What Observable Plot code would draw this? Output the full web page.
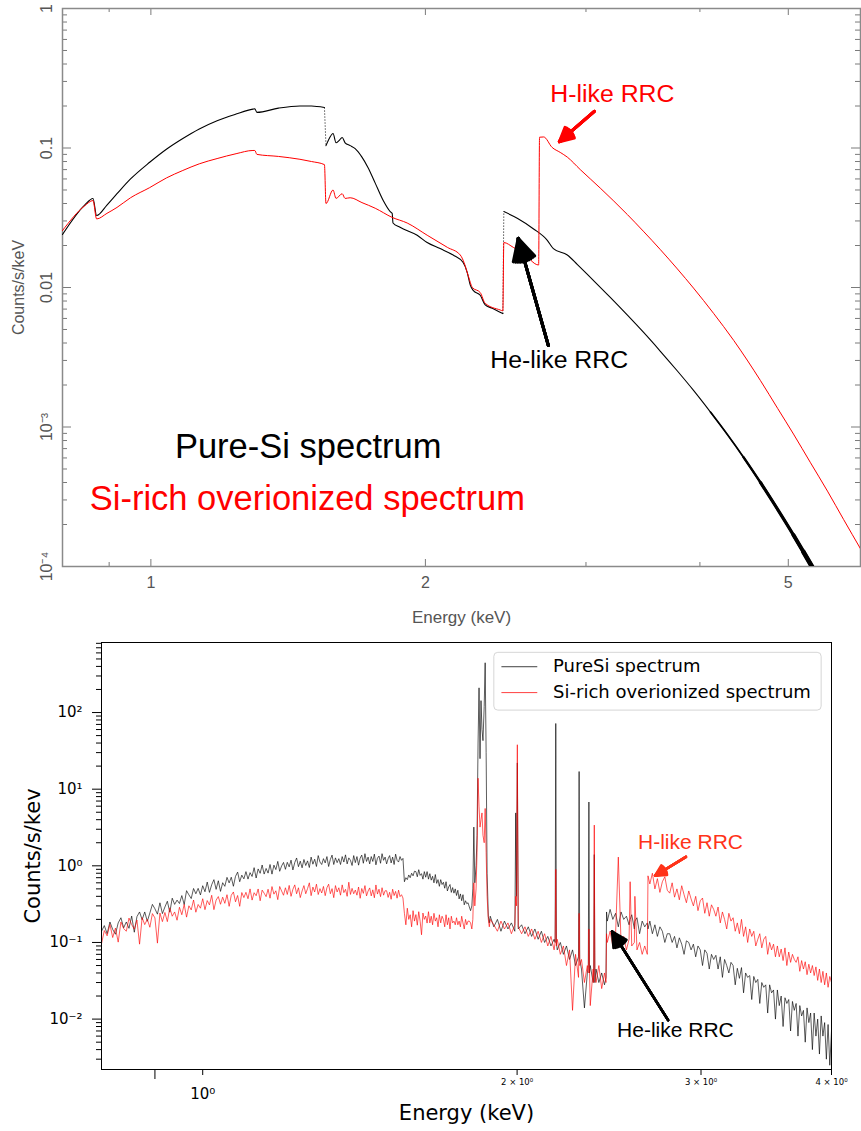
<!DOCTYPE html>
<html><head><meta charset="utf-8">
<script src="https://cdn.jsdelivr.net/npm/d3@7"></script>
<script src="https://cdn.jsdelivr.net/npm/@observablehq/plot@0.6"></script>
<style>
html,body{margin:0;padding:0;background:#fff;}
#chart svg{display:block;}
</style></head><body><div id="chart"></div>
<script>
// ---------- TOP PANEL DATA (model spectra, [energy keV, counts/s/keV]) ----------
const topPureSi = [
 [0.80,0.024],[0.846,0.039],[0.864,0.0435],[0.872,0.0328],[0.895,0.039],[0.918,0.047],[0.95,0.06],[0.997,0.079],[1.04,0.098],[1.084,0.117],
 [1.13,0.137],[1.182,0.157],[1.24,0.175],[1.294,0.19],[1.300,0.191],[1.307,0.18],[1.38,0.193],[1.457,0.2],[1.50,0.2],[1.550,0.195],
 [1.556,0.104],[1.570,0.118],[1.584,0.127],[1.596,0.109],[1.608,0.113],[1.621,0.119],[1.633,0.109],[1.654,0.104],[1.675,0.099],[1.704,0.086],
 [1.730,0.0725],[1.762,0.056],[1.798,0.042],[1.830,0.035],[1.839,0.034],[1.843,0.029],[1.876,0.027],[1.959,0.0237],[2.009,0.021],[2.076,0.019],
 [2.145,0.0171],[2.200,0.0151],[2.223,0.0128],[2.240,0.0104],[2.258,0.0095],[2.297,0.0088],[2.326,0.0075],[2.368,0.0071],[2.432,0.0065],
 [2.438,0.035],[2.522,0.0314],[2.626,0.0264],[2.721,0.0218],[2.763,0.019],[2.862,0.0171],[2.936,0.01458],[3.056,0.01126],[3.19,0.00849],[3.331,0.00633],
 [3.47,0.00476],[3.62,0.00349],[3.779,0.00252],[3.936,0.00183],[4.108,0.00128],[4.289,0.00088],[4.465,0.000608],[4.661,0.0004],[4.867,0.000257],
 [5.066,0.000168],[5.196,0.000127],[5.33,0.0000953],[5.45,0.0000735]
];
const topOverionized = [
 [0.80,0.0256],[0.846,0.0385],[0.864,0.042],[0.872,0.031],[0.895,0.034],[0.918,0.0375],[0.95,0.044],[0.997,0.052],[1.04,0.061],[1.084,0.069],
 [1.13,0.077],[1.182,0.084],[1.24,0.091],[1.294,0.096],[1.300,0.096],[1.307,0.09],[1.38,0.087],[1.457,0.083],[1.50,0.08],[1.550,0.076],
 [1.556,0.040],[1.584,0.05],[1.596,0.0435],[1.621,0.047],[1.633,0.0435],[1.654,0.044],[1.704,0.0406],[1.762,0.037],[1.839,0.0318],[1.91,0.029],
 [2.009,0.0237],[2.114,0.0194],[2.184,0.0171],[2.205,0.0151],[2.228,0.0122],[2.252,0.0100],[2.297,0.0092],[2.326,0.0077],[2.416,0.0069],[2.432,0.0068],
 [2.438,0.021],[2.497,0.0194],[2.561,0.0176],[2.662,0.0145],[2.668,0.1195],[2.696,0.12],[2.754,0.101],[2.811,0.093],[2.862,0.086],[2.957,0.07],
 [3.11,0.0516],[3.331,0.0333],[3.467,0.02535],[3.62,0.01868],[3.779,0.01358],[3.936,0.0099],[4.14,0.00653],[4.357,0.00417],[4.661,0.00215],[4.867,0.00136],
 [5.066,0.00089],[5.289,0.000554],[5.52,0.000347],[5.75,0.000217],[6.0,0.000134]
];
const pureSiEdges = [1.553, 2.435];          // dotted jumps in the Pure-Si model
const topXMajor = [1, 2, 5];
const topXMinor = [0.9, 3, 4, 6];
const topYMajor = [1, 0.1, 0.01, 0.001, 0.0001];
const topYLabels = ["1", "0.1", "0.01", "10\u207B\u00B3", "10\u207B\u2074"];
const topYMinor = [2,3,4,5,6,7,8,9].flatMap(m => [1e-4, 1e-3, 1e-2, 1e-1].map(d => m * d));
const topNotesBlack = [{E: 1.0625, v: 6.04e-4, t: "Pure-Si spectrum"}];
const topNotesRed = [{E: 0.857, v: 2.56e-4, t: "Si-rich overionized spectrum"}];
const topHLabel = [{E: 2.742, v: 0.212, t: "H-like RRC"}];
const topHeLabel = [{E: 2.356, v: 0.00263, t: "He-like RRC"}];
const topHArrow = [{E1: 3.064, v1: 0.183, E2: 2.805, v2: 0.111}];
const topHeArrow = [{E1: 2.728, v1: 0.00384, E2: 2.528, v2: 0.0225}];
const tailSteps = [4.0, 4.3, 4.6, 4.9, 5.1];   // where the noisy Pure-Si tail gets thicker

// ---------- BOTTOM PANEL DATA (simulated spectra) ----------
const bottomEnergyLow = [
 0.800,0.805,0.810,0.815,0.820,0.825,0.830,0.835,0.840,0.845,
 0.850,0.855,0.860,0.865,0.870,0.875,0.880,0.885,0.890,0.895,
 0.900,0.905,0.910,0.915,0.920,0.925,0.930,0.935,0.940,0.945,
 0.950,0.955,0.960,0.965,0.970,0.975,0.980,0.985,0.990,0.995,
 1.000,1.005,1.010,1.015,1.020,1.025,1.030,1.035,1.040,1.045,
 1.050,1.055,1.060,1.065,1.070,1.075,1.080,1.085,1.090,1.095,
 1.100,1.105,1.110,1.115,1.120,1.125,1.130,1.135,1.140,1.145,
 1.150,1.155,1.160,1.165,1.170,1.175,1.180,1.185,1.190,1.195,
 1.200,1.205,1.210,1.215,1.220,1.225,1.230,1.235,1.240,1.245,
 1.250,1.255,1.260,1.265,1.270,1.275,1.280,1.285,1.290,1.295,
 1.300,1.305,1.310,1.315,1.320,1.325,1.330,1.335,1.340,1.345,
 1.350,1.355,1.360,1.365,1.370,1.375,1.380,1.385,1.390,1.395,
 1.400,1.405,1.410,1.415,1.420,1.425,1.430,1.435,1.440,1.445,
 1.450,1.455,1.460,1.465,1.470,1.475,1.480,1.485,1.490,1.495,
 1.500,1.505,1.510,1.515,1.520,1.525,1.530,1.535,1.540,1.545,
 1.550,1.555,1.560,1.565,1.570,1.575,1.580,1.585,1.590,1.595,
 1.600,1.605,1.610,1.615,1.620,1.625,1.630,1.635,1.640,1.645,
 1.650,1.655,1.660,1.665,1.670,1.675,1.680,1.685,1.690,1.695,
 1.700,1.705,1.710,1.715,1.720,1.725,1.730,1.735,1.740,1.745,
 1.750,1.755,1.760,1.765,1.770,1.775,1.780,1.785,1.790,1.795,
 1.800
];
const pureSiLow = [
 0.14,0.166,0.13,0.185,0.148,0.128,0.18,0.21,0.155,0.185,
 0.153,0.221,0.136,0.217,0.25,0.198,0.25,0.189,0.242,0.314,
 0.275,0.234,0.329,0.238,0.29,0.345,0.248,0.378,0.314,0.357,
 0.322,0.409,0.312,0.474,0.418,0.374,0.506,0.432,0.508,0.417,
 0.55,0.459,0.614,0.45,0.567,0.66,0.493,0.638,0.464,0.602,
 0.54,0.707,0.599,0.71,0.541,0.729,0.828,0.62,0.756,0.676,
 0.84,0.671,0.815,0.726,0.946,0.693,0.911,0.799,1.025,0.78,
 0.924,0.803,1.04,0.779,1.021,0.893,1.142,0.848,0.996,1.107,
 0.9,1.111,0.969,1.185,0.884,1.103,1.266,0.975,1.15,0.942,
 1.21,1.01,1.16,0.95,1.3,1.05,1.22,0.98,1.36,1.12,
 1.04,1.24,1.09,1.32,0.98,1.21,1.38,1.04,1.27,1.1,
 1.24,1.04,1.32,1.12,1.39,1.06,1.27,1.18,1.01,1.36,
 1.1,1.32,1.02,1.26,1.38,1.08,1.44,1.14,1.3,1.06,
 1.32,1.14,1.42,1.03,1.26,1.34,1.08,1.44,1.18,1.3,
 1.06,1.24,1.36,1.09,1.3,1.04,1.42,1.18,1.12,1.32,
 1.18,1.25,0.62,0.7,0.66,0.76,0.7,0.8,0.74,0.85,
 0.84,0.72,0.89,0.75,0.79,0.67,0.84,0.71,0.84,0.67,
 0.79,0.65,0.73,0.6,0.77,0.59,0.66,0.54,0.66,0.57,
 0.61,0.51,0.62,0.47,0.53,0.57,0.45,0.52,0.44,0.5,
 0.41,0.48,0.37,0.43,0.35,0.42,0.31,0.35,0.32,0.33,
 0.29
];
const overionLow = [
 0.096,0.143,0.122,0.172,0.116,0.154,0.101,0.185,0.152,0.14,
 0.208,0.171,0.149,0.196,0.095,0.211,0.171,0.201,0.158,0.238,
 0.209,0.098,0.242,0.187,0.246,0.187,0.283,0.22,0.25,0.195,
 0.288,0.23,0.314,0.214,0.301,0.266,0.358,0.248,0.313,0.28,
 0.372,0.268,0.352,0.309,0.413,0.268,0.357,0.397,0.315,0.39,
 0.324,0.42,0.296,0.413,0.456,0.339,0.41,0.296,0.448,0.385,
 0.451,0.372,0.5,0.357,0.446,0.407,0.499,0.35,0.482,0.44,
 0.396,0.495,0.378,0.536,0.427,0.472,0.362,0.537,0.469,0.413,
 0.517,0.423,0.555,0.4,0.494,0.564,0.432,0.517,0.385,0.47,
 0.552,0.432,0.504,0.6,0.408,0.528,0.456,0.576,0.422,0.504,
 0.442,0.538,0.408,0.518,0.576,0.432,0.504,0.384,0.552,0.456,
 0.517,0.414,0.564,0.447,0.494,0.4,0.611,0.423,0.508,0.432,
 0.483,0.414,0.529,0.377,0.506,0.437,0.552,0.405,0.469,0.515,
 0.405,0.486,0.383,0.563,0.428,0.495,0.396,0.518,0.414,0.473,
 0.473,0.387,0.452,0.366,0.495,0.409,0.464,0.378,0.482,0.396,
 0.42,0.38,0.24,0.17,0.28,0.2,0.23,0.16,0.26,0.19,
 0.231,0.168,0.252,0.189,0.126,0.242,0.2,0.221,0.179,0.252,
 0.18,0.22,0.17,0.24,0.19,0.21,0.16,0.23,0.18,0.22,
 0.2,0.16,0.23,0.17,0.21,0.15,0.22,0.18,0.19,0.17,
 0.21,0.17,0.19,0.16,0.22,0.18,0.15,0.2,0.17,0.19,
 0.19
];
const bottomEnergyLines = [1.805,1.810,1.814,1.818,1.822,1.827,1.831,1.835,1.839,1.843,1.847,1.851,1.855,1.860,1.864,1.868,1.872,1.877,1.881];
const pureSiLines = [0.26,0.3,0.5,3.2,0.6,1.0,2.5,40,210,25,143,60,43,120,446,30,0.8,0.22,0.18];
const overionLines = [0.18,0.15,0.2,0.6,0.3,0.5,1.5,13.9,6,3.2,4,4.9,2.5,2,5.6,1.5,0.4,0.2,0.16];
const bottomEnergyHigh = [
 1.885,1.900,1.915,1.930,1.945,1.960,1.975,1.990,1.994,1.997,
 2.001,2.005,2.020,2.035,2.050,2.065,2.080,2.095,2.110,2.125,
 2.140,2.155,2.170,2.175,2.178,2.181,2.185,2.200,2.215,2.230,
 2.245,2.260,2.275,2.290,2.293,2.296,2.305,2.320,2.335,2.340,
 2.343,2.346,2.350,2.365,2.368,2.371,2.374,2.380,2.395,2.410,
 2.425,2.433,2.436,2.440,2.455,2.470,2.485,2.500,2.515,2.530,
 2.545,2.560,2.566,2.575,2.590,2.593,2.605,2.620,2.635,2.650,
 2.665,2.669,2.680,2.695,2.710,2.725,2.740,2.755,2.770,2.785,
 2.800,2.815,2.830,2.845,2.860,2.875,2.890,2.905,2.920,2.935,
 2.950,2.965,2.980,2.995,3.010,3.025,3.040,3.055,3.070,3.085,
 3.100,3.115,3.130,3.145,3.160,3.175,3.190,3.205,3.220,3.235,
 3.250,3.265,3.280,3.295,3.310,3.325,3.340,3.355,3.370,3.385,
 3.400,3.415,3.430,3.445,3.460,3.475,3.490,3.505,3.520,3.535,
 3.550,3.565,3.580,3.595,3.610,3.625,3.640,3.655,3.670,3.685,
 3.700,3.715,3.730,3.745,3.760,3.775,3.790,3.805,3.820,3.835,
 3.850,3.865,3.880,3.895,3.910,3.925,3.940,3.955,3.970,3.985,4.000
];
const pureSiHigh = [
 0.22,0.16,0.2,0.14,0.19,0.15,0.18,0.14,4.9,0.4,
 22,0.15,0.17,0.13,0.16,0.12,0.15,0.11,0.14,0.1,
 0.12,0.09,0.11,0.1,72,0.1,0.08,0.1,0.07,0.09,
 0.06,0.08,0.05,0.065,17,0.06,0.045,0.014,0.04,0.05,
 6.8,0.04,0.05,0.03,0.035,1.4,0.03,0.045,0.03,0.04,
 0.028,0.035,0.25,0.19,0.27,0.2,0.24,0.16,0.25,0.2,
 0.22,0.17,0.2,0.23,0.15,0.19,0.21,0.13,0.19,0.16,
 0.18,0.15,0.19,0.13,0.17,0.12,0.16,0.14,0.1,0.13,
 0.13,0.1,0.12,0.085,0.115,0.095,0.07,0.105,0.1,0.08,
 0.095,0.065,0.09,0.08,0.05,0.08,0.072,0.045,0.07,0.06,
 0.068,0.045,0.065,0.035,0.06,0.05,0.04,0.055,0.05,0.028,
 0.046,0.034,0.047,0.022,0.04,0.035,0.037,0.018,0.036,0.03,
 0.033,0.016,0.03,0.026,0.028,0.012,0.028,0.022,0.024,0.01,
 0.024,0.015,0.02,0.008,0.019,0.016,0.018,0.007,0.017,0.013,
 0.016,0.006,0.015,0.011,0.013,0.005,0.014,0.009,0.012,0.004,
 0.012,0.006,0.01,0.0035,0.011,0.006,0.009,0.003,0.0085,0.0025,0.007
];
const overionHigh = [
 0.2,0.17,0.14,0.19,0.15,0.18,0.13,0.17,0.4,0.3,
 38,0.16,0.13,0.16,0.12,0.15,0.11,0.14,0.1,0.13,
 0.09,0.12,0.08,0.1,0.9,0.09,0.11,0.07,0.09,0.05,
 0.08,0.013,0.07,0.035,0.24,0.05,0.06,0.03,0.05,0.04,
 0.15,0.045,0.015,0.045,0.03,3.4,0.04,0.03,0.05,0.025,
 0.04,0.03,0.13,0.1,0.14,0.09,0.13,1.3,0.1,0.12,
 0.08,0.11,0.62,0.09,0.1,0.4,0.08,0.1,0.07,0.09,
 0.07,0.74,0.58,0.8,0.5,0.68,0.45,0.62,0.72,0.48,
 0.44,0.6,0.39,0.5,0.36,0.55,0.42,0.33,0.47,0.37,
 0.3,0.4,0.26,0.35,0.38,0.24,0.33,0.22,0.31,0.27,
 0.22,0.29,0.18,0.25,0.2,0.15,0.24,0.19,0.21,0.14,
 0.18,0.13,0.2,0.12,0.16,0.1,0.15,0.12,0.14,0.09,
 0.11,0.13,0.085,0.11,0.12,0.07,0.1,0.08,0.095,0.065,
 0.09,0.065,0.082,0.058,0.085,0.05,0.075,0.055,0.07,0.06,
 0.055,0.065,0.042,0.058,0.045,0.056,0.038,0.052,0.04,0.05,
 0.037,0.048,0.032,0.045,0.03,0.042,0.028,0.04,0.026,0.036,0.03
];
const bottomYMajor = [0.01, 0.1, 1, 10, 100];
const bottomYLabels = ["10\u207B\u00B2", "10\u207B\u00B9", "10\u2070", "10\u00B9", "10\u00B2"];
const bottomYMinor = [2,3,4,5,6,7,8,9].flatMap(m => [1e-3, 1e-2, 1e-1, 1, 10, 100].map(d => m * d)).filter(v => v > 0.0022 && v < 820);
const bottomXMajor = [1];
const bottomXMajorLabels = ["10\u2070"];
const bottomXMinorLabeled = [2, 3, 4];
const bottomXMinorLabels = ["2 \u00D7 10\u2070", "3 \u00D7 10\u2070", "4 \u00D7 10\u2070"];
const legendLabels = ["PureSi spectrum", "Si-rich overionized spectrum"];
const legendRowsV = [396, 182];
const legendSwatchE = [1.932, 2.091];
const legendTextE = 2.165;
const legendBox = {E1: 1.902, E2: 3.914, v1: 106, v2: 601};
const botHLabel = [{E: 2.611, v: 1.66, t: "H-like RRC"}];
const botHeLabel = [{E: 2.493, v: 0.00584, t: "He-like RRC"}];
const botHArrow = [{E1: 2.902, v1: 1.31, E2: 2.711, v2: 0.742}];
const botHeArrow = [{E1: 2.790, v1: 0.0097, E2: 2.466, v2: 0.139}];

// ---------- BUILD ----------
const pureRows = topPureSi.map(([E, v]) => ({E, v, seg: pureSiEdges.filter(e => E > e).length}));
const overRows = topOverionized.map(([E, v]) => ({E, v}));
const edgeLinks = pureSiEdges.map(e => {
  const before = pureRows.filter(d => d.E < e).at(-1);
  const after = pureRows.find(d => d.E > e);
  return {x1: before.E, y1: before.v, x2: after.E, y2: after.v};
});
// arrow with a solid-looking head: several arrowheads with different opening angles
const solidArrow = (data, color, w, len) => [55, 44, 33, 22, 12].map(a =>
  Plot.arrow(data, {x1: "E1", y1: "v1", x2: "E2", y2: "v2", stroke: color, strokeWidth: w, headLength: len, headAngle: a}));

const W = 861, topH = 632;
const tM = {top: 8, right: 1, bottom: 66, left: 62};
const tInW = W - tM.left - tM.right, tInH = topH - tM.top - tM.bottom;
const topFont = "Liberation Sans, Arial, Helvetica, sans-serif";
const axGray = "#7a7a7a";

const topPlot = Plot.plot({
  width: W, height: topH,
  marginTop: tM.top, marginRight: tM.right, marginBottom: tM.bottom, marginLeft: tM.left,
  x: {type: "log", domain: [0.8, 6], axis: null},
  y: {type: "log", domain: [1e-4, 1], axis: null},
  style: {background: "#fff", fontFamily: topFont},
  marks: [
    Plot.ruleX(topXMajor, {x: d => d, insetTop: tInH - 7, stroke: axGray}),
    Plot.ruleX(topXMajor, {x: d => d, insetBottom: tInH - 7, stroke: axGray}),
    Plot.ruleX(topXMinor, {x: d => d, insetTop: tInH - 4, stroke: axGray}),
    Plot.ruleX(topXMinor, {x: d => d, insetBottom: tInH - 4, stroke: axGray}),
    Plot.ruleY(topYMajor, {y: d => d, insetRight: tInW - 9, stroke: axGray}),
    Plot.ruleY(topYMajor, {y: d => d, insetLeft: tInW - 9, stroke: axGray}),
    Plot.ruleY(topYMinor, {y: d => d, insetRight: tInW - 5, stroke: axGray}),
    Plot.ruleY(topYMinor, {y: d => d, insetLeft: tInW - 5, stroke: axGray}),
    Plot.frame({stroke: "#8a8a8a", strokeWidth: 1.5}),
    Plot.text(topXMajor, {x: d => d, frameAnchor: "bottom", dy: 16, textAnchor: "middle", lineAnchor: "middle", text: d => String(d), fontSize: 16, fill: "#555"}),
    Plot.text(topYMajor, {y: d => d, frameAnchor: "left", dx: -16, rotate: -90, textAnchor: "middle", lineAnchor: "middle", text: (d, i) => topYLabels[i], fontSize: 16, fill: "#555"}),
    Plot.text(["Energy (keV)"], {frameAnchor: "bottom", dy: 51, textAnchor: "middle", lineAnchor: "middle", text: d => d, fontSize: 17, fill: "#555", letterSpacing: "0.9px"}),
    Plot.text(["Counts/s/keV"], {frameAnchor: "left", dx: -44, rotate: -90, textAnchor: "middle", lineAnchor: "middle", text: d => d, fontSize: 16, fill: "#555", letterSpacing: "1px"}),
    Plot.link(edgeLinks, {x1: "x1", y1: "y1", x2: "x2", y2: "y2", stroke: "#000", strokeWidth: 1, strokeDasharray: "1 2"}),
    Plot.line(pureRows, {x: "E", y: "v", z: "seg", stroke: "#000", strokeWidth: 1.1, curve: "monotone-x", clip: true}),
    ...tailSteps.map((e, i) => Plot.line(pureRows.filter(d => d.E >= e), {x: "E", y: "v", stroke: "#000", strokeWidth: 1.7 + 0.75 * i, curve: "monotone-x", clip: true})),
    Plot.line(overRows, {x: "E", y: "v", stroke: "#ff0000", strokeWidth: 1, curve: "monotone-x", clip: true}),
    Plot.text(topNotesBlack, {x: "E", y: "v", text: "t", textAnchor: "start", lineAnchor: "bottom", fontSize: 34.5, fill: "#000"}),
    Plot.text(topNotesRed, {x: "E", y: "v", text: "t", textAnchor: "start", lineAnchor: "bottom", fontSize: 34.5, fill: "#ff0000"}),
    Plot.text(topHLabel, {x: "E", y: "v", text: "t", textAnchor: "start", lineAnchor: "bottom", fontSize: 24.8, fill: "#ff0000"}),
    Plot.text(topHeLabel, {x: "E", y: "v", text: "t", textAnchor: "start", lineAnchor: "bottom", fontSize: 24.8, fill: "#000"}),
    ...solidArrow(topHArrow, "#ff0000", 3, 12),
    ...solidArrow(topHeArrow, "#000", 3, 12)
  ]
});

// bottom
const botH = 1131 - topH;
const bM = {top: 10, right: 30, bottom: 62, left: 101};
const bInW = W - bM.left - bM.right, bInH = botH - bM.top - bM.bottom;
const botFont = "DejaVu Sans, sans-serif";
const bottomEnergy = [...bottomEnergyLow, ...bottomEnergyLines, ...bottomEnergyHigh];
const pureAll = [...pureSiLow, ...pureSiLines, ...pureSiHigh];
const overAll = [...overionLow, ...overionLines, ...overionHigh];
const botRows = bottomEnergy.map((E, i) => ({E, pure: pureAll[i], over: overAll[i]}));

const botPlot = Plot.plot({
  width: W, height: botH,
  marginTop: bM.top, marginRight: bM.right, marginBottom: bM.bottom, marginLeft: bM.left,
  x: {type: "log", domain: [0.8, 4], axis: null},
  y: {type: "log", domain: [0.0022, 820], axis: null},
  style: {background: "#fff", fontFamily: botFont},
  marks: [
    Plot.line(botRows, {x: "E", y: "pure", stroke: "#000", strokeOpacity: 0.8, strokeWidth: 0.8, clip: true}),
    Plot.line(botRows, {x: "E", y: "over", stroke: "#ff0000", strokeOpacity: 0.8, strokeWidth: 0.8, clip: true}),
    Plot.frame({stroke: "#000", strokeWidth: 1}),
    Plot.ruleY(bottomYMajor, {y: d => d, insetRight: bInW, insetLeft: -9, stroke: "#000"}),
    Plot.ruleY(bottomYMinor, {y: d => d, insetRight: bInW, insetLeft: -5, stroke: "#000"}),
    Plot.ruleX(bottomXMajor, {x: d => d, insetTop: bInH, insetBottom: -6, stroke: "#000"}),
    Plot.ruleX([0.9], {x: d => d, insetTop: bInH, insetBottom: -10, stroke: "#000"}),
    Plot.ruleX(bottomXMinorLabeled, {x: d => d, insetTop: bInH, insetBottom: -6, stroke: "#000"}),
    Plot.text(bottomYMajor, {y: d => d, frameAnchor: "left", dx: -19, textAnchor: "end", lineAnchor: "middle", text: (d, i) => bottomYLabels[i], fontSize: 15, fill: "#000"}),
    Plot.text(bottomXMajor, {x: d => d, frameAnchor: "bottom", dy: 25, textAnchor: "middle", lineAnchor: "middle", text: (d, i) => bottomXMajorLabels[i], fontSize: 15, fill: "#000"}),
    Plot.text(bottomXMinorLabeled, {x: d => d, frameAnchor: "bottom", dy: 13, textAnchor: "middle", lineAnchor: "middle", text: (d, i) => bottomXMinorLabels[i], fontSize: 8.5, fill: "#000"}),
    Plot.text(["Energy (keV)"], {frameAnchor: "bottom", dy: 44, textAnchor: "middle", lineAnchor: "middle", text: d => d, fontSize: 21, fill: "#000"}),
    Plot.text(["Counts/s/kev"], {frameAnchor: "left", dx: -68, rotate: -90, textAnchor: "middle", lineAnchor: "middle", text: d => d, fontSize: 21, fill: "#000"}),
    Plot.rect([legendBox], {x1: "E1", x2: "E2", y1: "v1", y2: "v2", fill: "#fff", fillOpacity: 0.85, stroke: "#d6d6d6", rx: 4}),
    Plot.link(legendRowsV, {x1: () => legendSwatchE[0], x2: () => legendSwatchE[1], y1: d => d, y2: d => d, stroke: (d, i) => i === 0 ? "#000" : "#ff0000", strokeOpacity: 0.75, strokeWidth: 1}),
    Plot.text(legendRowsV, {x: () => legendTextE, y: d => d, text: (d, i) => legendLabels[i], textAnchor: "start", lineAnchor: "middle", fontSize: 18, fill: "#000"}),
    Plot.text(botHLabel, {x: "E", y: "v", text: "t", textAnchor: "start", lineAnchor: "bottom", fontSize: 21, fill: "#ff3319", fontFamily: topFont}),
    Plot.text(botHeLabel, {x: "E", y: "v", text: "t", textAnchor: "start", lineAnchor: "bottom", fontSize: 21, fill: "#000", fontFamily: topFont}),
    ...solidArrow(botHArrow, "#ff3319", 2.5, 10),
    ...solidArrow(botHeArrow, "#000", 2.5, 10)
  ]
});

const host = document.getElementById("chart");
host.appendChild(topPlot);
host.appendChild(botPlot);
</script></body></html>
